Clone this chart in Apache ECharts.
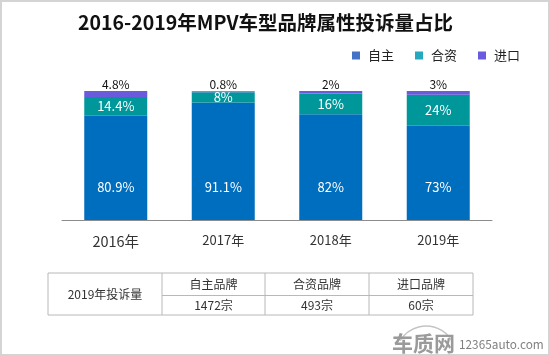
<!DOCTYPE html>
<html><head><meta charset="utf-8">
<script src="https://cdn.jsdelivr.net/npm/echarts@6/dist/echarts.min.js"></script>
<style>html,body{margin:0;padding:0;background:#fff}#c{width:550px;height:356px}</style>
</head><body><div id="c"></div>
<script>
var categories = ['2016年', '2017年', '2018年', '2019年'];
var seriesNames = ['自主', '合资', '进口'];
var domestic = [80.9, 91.1, 82, 73];
var joint = [14.4, 8, 16, 24];
var imported = [4.8, 0.8, 2, 3];
var tableRowTitle = '2019年投诉量';
var tableHeaders = ['自主品牌', '合资品牌', '进口品牌'];
var tableValues = ['1472宗', '493宗', '60宗'];

var FONT = '"Noto Sans CJK SC", "Noto Sans", sans-serif';
var chart = echarts.init(document.getElementById('c'), null, {renderer: 'canvas'});

// table geometry
var tx = [48, 162, 265, 369, 473];
var ty = [273, 295.5, 315];
var g = [];
g.push({type: 'rect', shape: {x: 1, y: 1, width: 548, height: 354}, style: {fill: 'none', stroke: '#d4d4d4', lineWidth: 2}, silent: true});
g.push({type: 'rect', shape: {x: tx[0], y: ty[0], width: tx[4] - tx[0], height: ty[2] - ty[0]}, style: {fill: 'none', stroke: '#b8b8b8', lineWidth: 1}});
g.push({type: 'line', shape: {x1: tx[1], y1: ty[1], x2: tx[4], y2: ty[1]}, style: {stroke: '#b8b8b8', lineWidth: 1}});
for (var i = 1; i < 4; i++) {
  g.push({type: 'line', shape: {x1: tx[i], y1: ty[0], x2: tx[i], y2: ty[2]}, style: {stroke: '#b8b8b8', lineWidth: 1}});
}
g.push({type: 'text', x: (tx[0] + tx[1]) / 2, y: (ty[0] + ty[2]) / 2, style: {text: tableRowTitle, font: '12px ' + FONT, fill: '#333', align: 'center', verticalAlign: 'middle'}});
for (var j = 0; j < 3; j++) {
  var cx = (tx[j + 1] + tx[j + 2]) / 2;
  g.push({type: 'text', x: cx, y: (ty[0] + ty[1]) / 2, style: {text: tableHeaders[j], font: '12px ' + FONT, fill: '#333', align: 'center', verticalAlign: 'middle'}});
  g.push({type: 'text', x: cx, y: (ty[1] + ty[2]) / 2, style: {text: tableValues[j], font: '12px ' + FONT, fill: '#333', align: 'center', verticalAlign: 'middle'}});
}
// watermark
g.push({type: 'arc', shape: {cx: 426, cy: 356, r: 30, startAngle: Math.PI * 1.17, endAngle: Math.PI * 1.83}, style: {stroke: '#c4c4c4', lineWidth: 1.5, fill: 'none'}});
g.push({type: 'text', x: 392, y: 343, style: {text: '车质网', font: 'bold 21px ' + FONT, fill: '#9a9a9a', align: 'left', verticalAlign: 'middle'}});
g.push({type: 'text', x: 459, y: 345, style: {text: '12365auto.com', font: '11.8px ' + FONT, fill: '#808080', align: 'left', verticalAlign: 'middle'}});

var labelFont = {fontFamily: FONT, fontSize: 13};
chart.setOption({
  animation: false,
  textStyle: {fontFamily: FONT},
  title: {text: '2016-2019年MPV车型品牌属性投诉量占比', left: 73, top: 8,
    textStyle: {fontFamily: FONT, fontSize: 19.5, fontWeight: 'bold', color: '#111'}},
  legend: {data: [
      {name: '自主', itemStyle: {color: '#4472C4'}},
      {name: '合资', itemStyle: {color: '#25A9BF'}},
      {name: '进口', itemStyle: {color: '#6A5AE0'}}],
    left: 347, top: 44, itemWidth: 8, itemHeight: 8, itemGap: 21, icon: 'rect',
    textStyle: {fontFamily: FONT, fontSize: 13, color: '#222', padding: [0, 0, 0, 3]}},
  grid: {left: 62, right: 58, top: 91, bottom: 136},
  xAxis: {type: 'category', data: categories,
    axisLine: {lineStyle: {color: '#8c8c8c', width: 1}}, axisTick: {show: false},
    axisLabel: {fontFamily: FONT, fontSize: 13, color: '#333', margin: 14,
      formatter: function (v, idx) { return idx === 0 ? '{big|' + v + '}' : v; },
      rich: {big: {fontFamily: FONT, fontSize: 14.5, color: '#333'}}}},
  yAxis: {type: 'value', min: 0, max: 100, show: false, splitLine: {show: false}},
  series: [
    {name: '自主', type: 'bar', stack: 's', data: domestic, barWidth: 63,
      itemStyle: {color: '#006EBE'},
      label: Object.assign({show: true, position: 'insideBottom', distance: 26, color: '#fff', formatter: '{c}%'}, labelFont)},
    {name: '合资', type: 'bar', stack: 's', data: joint, barWidth: 63,
      itemStyle: {color: '#00979B'},
      label: Object.assign({show: true, position: 'inside', color: '#fff', formatter: '{c}%'}, labelFont)},
    {name: '进口', type: 'bar', stack: 's', data: imported, barWidth: 63,
      itemStyle: {color: '#6A5ADC'},
      label: Object.assign({show: true, position: 'top', distance: 1, color: '#111', fontSize: 12, formatter: '{c}%'}, {fontFamily: FONT})}
  ],
  graphic: g
});
</script></body></html>
